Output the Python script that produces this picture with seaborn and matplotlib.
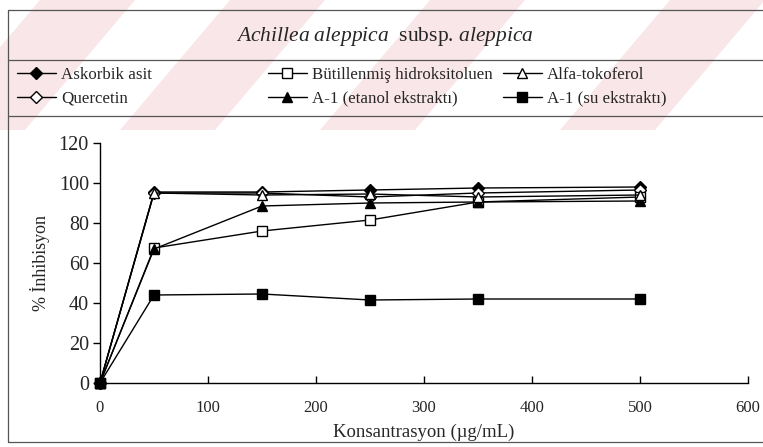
import matplotlib
matplotlib.use("Agg")
import matplotlib.pyplot as plt
from matplotlib.lines import Line2D
from matplotlib.patches import Polygon
import seaborn as sns
import pandas as pd

sns.set_theme(style="white")
plt.rcParams["font.family"] = ["Liberation Serif", "DejaVu Serif"]
plt.rcParams["mathtext.fontset"] = "custom"
plt.rcParams["mathtext.rm"] = "Liberation Serif"
plt.rcParams["mathtext.it"] = "Liberation Serif:italic"

# Concentrations (µg/mL) and % inhibition per sample
konsantrasyon = [0, 50, 150, 250, 350, 500]
askorbik_asit = [0, 95.5, 95.5, 96.5, 97.5, 98.0]
quercetin = [0, 95.0, 95.0, 93.0, 95.0, 96.5]
bht = [0, 67.5, 76.0, 81.5, 90.5, 93.0]
alfa_tokoferol = [0, 95.0, 94.0, 94.5, 93.0, 94.0]
a1_etanol = [0, 67.0, 88.5, 90.0, 90.5, 91.0]
a1_su = [0, 44.0, 44.5, 41.5, 42.0, 42.0]

labels = ["Askorbik asit", "Quercetin", "Bütillenmiş hidroksitoluen",
          "A-1 (etanol ekstraktı)", "Alfa-tokoferol", "A-1 (su ekstraktı)"]
series = [askorbik_asit, quercetin, bht, a1_etanol, alfa_tokoferol, a1_su]
markers = ["D", "D", "s", "^", "^", "s"]
faces = ["black", "white", "white", "black", "white", "black"]
msizes = [6, 6, 6.5, 7, 7, 6.5]

fig = plt.figure(figsize=(7.63, 4.47), dpi=100)
W, H = 763, 447

# Faint pink diagonal bands across the header
for b in [-70, 120, 320, 560]:
    pts = [((b) / W, 1 - 130 / H), ((b + 95) / W, 1 - 130 / H),
           ((b + 205) / W, 1.0), ((b + 110) / W, 1.0)]
    fig.add_artist(Polygon(pts, closed=True, transform=fig.transFigure,
                           facecolor="#f9e6e8", edgecolor="none", zorder=0))

ax = fig.add_axes([100 / W, 1 - 383 / H, 648 / W, 240 / H])
ax.patch.set_alpha(0)

for lab, vals, m, fc, ms in zip(labels, series, markers, faces, msizes):
    df = pd.DataFrame({"x": konsantrasyon, "y": vals})
    sns.lineplot(data=df, x="x", y="y", ax=ax, color="black", linewidth=1.0,
                 marker=m, markersize=ms, markerfacecolor=fc,
                 markeredgecolor="black", markeredgewidth=1.0, label=lab,
                 clip_on=False)

ax.set_xlim(0, 600)
ax.set_ylim(0, 120)
ax.set_xticks(range(0, 601, 100))
ax.set_yticks(range(0, 121, 20))
for s in ["top", "right"]:
    ax.spines[s].set_visible(False)
for s in ["left", "bottom"]:
    ax.spines[s].set_color("black")
    ax.spines[s].set_linewidth(1.0)
ax.tick_params(axis="y", direction="out", length=5, width=1, color="black",
               labelsize=14.5, pad=3, left=True)
ax.tick_params(axis="x", direction="in", length=5, width=1, color="black",
               labelsize=12, pad=12, bottom=True)
ax.set_xlabel("Konsantrasyon (µg/mL)", fontsize=13.5, labelpad=6)
ax.set_ylabel("% İnhibisyon", fontsize=13, labelpad=6)

handles, lbls = ax.get_legend_handles_labels()
ax.get_legend().remove()

# Legend laid out in three columns of two rows
col_x = [17, 268, 503]
for i, cx in enumerate(col_x):
    fig.legend(handles[2 * i:2 * i + 2], lbls[2 * i:2 * i + 2],
               loc="upper left", bbox_to_anchor=(cx / W, 1 - 67 / H),
               frameon=False, fontsize=12.2, handlelength=2.3,
               handletextpad=0.3, labelspacing=0.45, borderpad=0,
               borderaxespad=0)

fig.text(385 / W, 1 - 37 / H,
         r"$\it{Achillea\ aleppica}$  subsp. $\it{aleppica}$",
         ha="center", va="center", fontsize=15.5)

# Outer frame and header separators
frame_kw = dict(color="#555555", linewidth=0.9, transform=fig.transFigure)
fig.add_artist(Line2D([8 / W, 8 / W], [1 - 10 / H, 1 - 442 / H], **frame_kw))
fig.add_artist(Line2D([8 / W, 1], [1 - 10 / H, 1 - 10 / H], **frame_kw))
fig.add_artist(Line2D([8 / W, 1], [1 - 60 / H, 1 - 60 / H], **frame_kw))
fig.add_artist(Line2D([8 / W, 1], [1 - 116 / H, 1 - 116 / H], **frame_kw))
fig.add_artist(Line2D([8 / W, 1], [1 - 442 / H, 1 - 442 / H], **frame_kw))

fig.savefig("out.png", dpi=100)
